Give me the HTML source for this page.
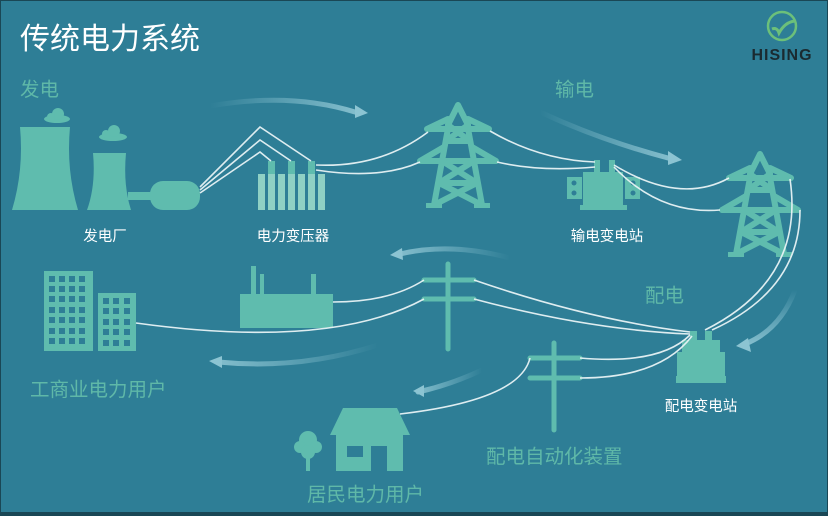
<!DOCTYPE html>
<html><head><meta charset="utf-8"><style>
html,body{margin:0;padding:0;background:#2e7e96;}
svg{display:block;}
text{font-family:"Liberation Sans","Noto Sans CJK SC",sans-serif;}
</style></head><body>
<svg width="828" height="516" viewBox="0 0 828 516" xmlns="http://www.w3.org/2000/svg">
<defs>
<g id="tower" stroke="#5fbcae" stroke-width="6" fill="none" stroke-linecap="round" stroke-linejoin="round">
  <path d="M0 0 L-10 20 M0 0 L10 20"/>
  <path d="M-31 24 L31 24 M-31 24 L-10 14 M31 24 L10 14"/>
  <path d="M-9 18 L-24 100 M9 18 L24 100"/>
  <path d="M-12 36 L12 36 M-10 20 L12 36 M10 20 L-12 36"/>
  <path d="M-38 56 L38 56 M-38 56 L-14 42 M38 56 L14 42"/>
  <path d="M-16 56 L19 78 M16 56 L-19 78 M-19 78 L19 78 M-19 78 L24 100 M19 78 L-24 100"/>
  <rect x="-32" y="98" width="16" height="5" fill="#5fbcae" stroke="none"/>
  <rect x="16" y="98" width="16" height="5" fill="#5fbcae" stroke="none"/>
</g>
<linearGradient id="fadeR" x1="0" x2="1"><stop offset="0" stop-color="#8cc4d2" stop-opacity="0"/><stop offset="1" stop-color="#8cc4d2" stop-opacity="0.9"/></linearGradient>
<linearGradient id="fadeL" x1="1" x2="0"><stop offset="0" stop-color="#8cc4d2" stop-opacity="0"/><stop offset="1" stop-color="#8cc4d2" stop-opacity="0.9"/></linearGradient>
<linearGradient id="fadeD" x1="0" y1="0" x2="0" y2="1"><stop offset="0" stop-color="#8cc4d2" stop-opacity="0"/><stop offset="1" stop-color="#8cc4d2" stop-opacity="0.9"/></linearGradient>
</defs>
<rect width="828" height="516" fill="#2e7e96"/>
<rect x="0" y="512" width="828" height="4" fill="#1a4755"/>
<rect x="0" y="0" width="1" height="516" fill="#1a4755"/>
<rect x="827" y="0" width="1" height="516" fill="#1a4755"/>
<rect x="0" y="0" width="828" height="1" fill="#1a4755"/>

<text x="20" y="49" font-size="30" fill="#ffffff">传统电力系统</text>
<!-- logo -->
<circle cx="782" cy="26" r="14" fill="none" stroke="#6cc07a" stroke-width="2.5"/>
<path d="M772 29 Q777 27 779 33 Q785 22 795 21" fill="none" stroke="#6cc07a" stroke-width="3"/>
<text x="782" y="60" font-size="16" font-weight="bold" fill="#1a2a30" text-anchor="middle" letter-spacing="1">HISING</text>

<g font-size="19.5" fill="#5fb8a8">
<text x="20" y="96">发电</text>
<text x="555" y="96">输电</text>
<text x="645" y="302">配电</text>
<text x="30" y="396">工商业电力用户</text>
<text x="486" y="463">配电自动化装置</text>
<text x="307" y="501">居民电力用户</text>
</g>
<g font-size="14.5" fill="#ffffff" text-anchor="middle">
<text x="105" y="241">发电厂</text>
<text x="293" y="241">电力变压器</text>
<text x="607" y="241">输电变电站</text>
<text x="701" y="411">配电变电站</text>
</g>

<!-- flow arrows -->
<g fill="none" stroke-width="5" stroke-linecap="round">
<path d="M210 106 Q290 92 355 112" stroke="url(#fadeR)"/>
<path d="M540 112 Q600 140 668 158" stroke="url(#fadeR)"/>
<path d="M510 258 Q450 242 400 254" stroke="url(#fadeL)"/>
<path d="M378 345 Q300 370 218 362" stroke="url(#fadeL)"/>
<path d="M482 370 Q450 385 418 392" stroke="url(#fadeL)"/>
<path d="M795 290 Q780 330 745 344" stroke="url(#fadeD)"/>
</g>
<g fill="#8cc4d2">
<polygon points="355,105 368,113 355,118"/>
<polygon points="668,151 682,160 668,165"/>
<polygon points="402,248 390,255 403,260"/>
<polygon points="222,356 209,361 222,368"/>
<polygon points="424,385 413,391 424,397"/>
<polygon points="748,338 736,346 751,352"/>
</g>

<!-- power plant -->
<g fill="#5fbcae">
<path d="M20 127 L70 127 Q66 170 78 210 L12 210 Q24 170 20 127 Z"/>
<path d="M93 153 L126 153 Q123 185 131 210 L87 210 Q96 185 93 153 Z"/>
<ellipse cx="57" cy="119" rx="13" ry="4"/><circle cx="58" cy="114" r="6"/><circle cx="51" cy="117" r="4"/>
<ellipse cx="113" cy="137" rx="14" ry="4"/><circle cx="114" cy="131" r="6"/><circle cx="106" cy="134" r="4"/>
<rect x="128" y="192" width="26" height="8"/>
<rect x="150" y="181" width="50" height="29" rx="13"/>
</g>
<!-- transformer bars -->
<g fill="#8fd0c4">
<rect x="258" y="174" width="7" height="36"/><rect x="268" y="174" width="7" height="36"/>
<rect x="278" y="174" width="7" height="36"/><rect x="288" y="174" width="7" height="36"/>
<rect x="298" y="174" width="7" height="36"/><rect x="308" y="174" width="7" height="36"/>
<rect x="318" y="174" width="7" height="36"/>
</g>
<g fill="#5fbcae">
<rect x="268" y="161" width="7" height="13"/><rect x="288" y="161" width="7" height="13"/><rect x="308" y="161" width="7" height="13"/>
</g>

<use href="#tower" x="458" y="105"/>
<use href="#tower" x="760" y="154"/>

<!-- transmission substation -->
<g fill="#5fbcae">
<rect x="567" y="177" width="15" height="22"/><rect x="625" y="177" width="15" height="22"/>
<rect x="583" y="172" width="40" height="35"/>
<rect x="580" y="205" width="47" height="5"/>
<rect x="594" y="160" width="6" height="14"/><rect x="609" y="160" width="6" height="14"/>
</g>
<g fill="#2e7e96"><circle cx="574" cy="183" r="2.5"/><circle cx="574" cy="193" r="2.5"/><circle cx="633" cy="183" r="2.5"/><circle cx="633" cy="193" r="2.5"/></g>

<!-- distribution substation -->
<g fill="#5fbcae">
<rect x="690" y="331" width="7" height="12"/><rect x="705" y="331" width="7" height="12"/>
<rect x="682" y="340" width="38" height="14"/>
<rect x="677" y="352" width="48" height="25"/>
<rect x="676" y="376" width="50" height="7"/>
</g>

<!-- poles -->
<g stroke="#5fbcae" stroke-width="5" stroke-linecap="round">
<path d="M448 264 L448 349 M424 280 L474 280 M424 299 L474 299"/>
<path d="M554 343 L554 430 M530 358 L580 358 M530 378 L580 378"/>
</g>

<!-- factory -->
<g fill="#5fbcae">
<rect x="240" y="294" width="93" height="34"/>
<rect x="251" y="266" width="5" height="30"/><rect x="260" y="274" width="4" height="22"/><rect x="311" y="274" width="5" height="22"/>
</g>

<!-- buildings -->
<g fill="#5fbcae">
<rect x="44" y="271" width="49" height="80"/>
<rect x="98" y="293" width="38" height="58"/>
</g>
<g fill="#2e7e96">
<g id="row1">
<rect x="49" y="276" width="6" height="6"/><rect x="59" y="276" width="6" height="6"/><rect x="69" y="276" width="6" height="6"/><rect x="79" y="276" width="6" height="6"/>
</g>
<use href="#row1" y="10"/><use href="#row1" y="20"/><use href="#row1" y="31"/><use href="#row1" y="41"/><use href="#row1" y="52"/><use href="#row1" y="62"/>
<g id="row2">
<rect x="103" y="298" width="6" height="6"/><rect x="113" y="298" width="6" height="6"/><rect x="124" y="298" width="6" height="6"/>
</g>
<use href="#row2" y="10"/><use href="#row2" y="21"/><use href="#row2" y="31"/><use href="#row2" y="42"/>
</g>

<!-- house & tree -->
<g fill="#5fbcae">
<polygon points="343,408 397,408 410,435 330,435"/>
<rect x="336" y="435" width="67" height="36"/>
<circle cx="308" cy="440" r="9"/><circle cx="300" cy="447" r="6"/><circle cx="316" cy="447" r="6"/><circle cx="308" cy="452" r="7"/>
<rect x="306" y="450" width="4" height="21"/>
</g>
<rect x="347" y="446" width="16" height="11" fill="#2e7e96"/>
<rect x="371" y="446" width="16" height="25" fill="#2e7e96"/>

<!-- wires -->
<g fill="none" stroke="#e8f3f5" stroke-width="1.6" opacity="0.95">
<path d="M200 187 L260 127 L311 161"/>
<path d="M200 190 L260 140 L291 161"/>
<path d="M200 193 L260 152 L271 161"/>
<path d="M316 165 Q380 168 428 132"/>
<path d="M316 170 Q380 180 420 162"/>
<path d="M490 131 Q540 160 595 162"/>
<path d="M497 162 Q540 172 595 167"/>
<path d="M614 165 Q680 205 729 178"/>
<path d="M614 167 Q660 215 720 210"/>
<path d="M790 179 Q805 280 705 330"/>
<path d="M800 210 Q800 290 712 330"/>
<path d="M474 280 Q590 320 690 332"/>
<path d="M474 299 Q590 330 690 334"/>
<path d="M424 280 Q390 302 333 302"/>
<path d="M424 299 Q330 350 136 323"/>
<path d="M580 358 Q660 365 690 335"/>
<path d="M580 378 Q660 378 692 336"/>
<path d="M530 358 Q520 400 400 414"/>
</g>
</svg>
</body></html>
